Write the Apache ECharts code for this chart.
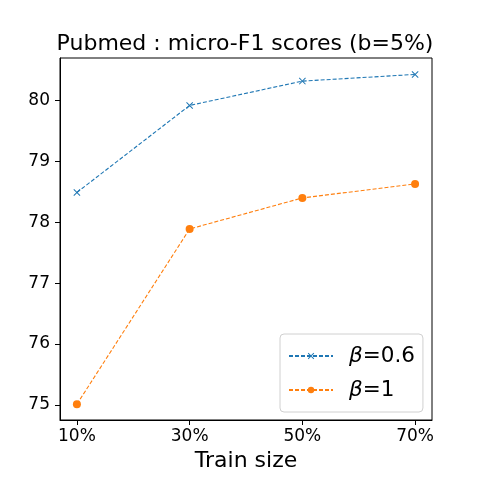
<!DOCTYPE html>
<html>
<head>
<meta charset="utf-8">
<script src="https://cdn.jsdelivr.net/npm/echarts@6/dist/echarts.min.js"></script>
<style>
  html, body { margin: 0; padding: 0; background: #fff; }
  #chart { width: 480px; height: 480px; }
</style>
</head>
<body>
<div id="chart"></div>
<script>
// train sizes (%) and scores
const trainSizes = [10, 30, 50, 70];
const beta06 = [78.49, 79.92, 80.32, 80.43];
const beta1 = [75.01, 77.89, 78.40, 78.63];
const yTicks = [75, 76, 77, 78, 79, 80];
const seriesNames = ['β=0.6', 'β=1'];

const FONT = 'DejaVu Sans';

// matplotlib style "x" marker
const crossPath = 'path://M0,1 L1,0 L5,4 L9,0 L10,1 L6,5 L10,9 L9,10 L5,6 L1,10 L0,9 L4,5 Z';

const chart = echarts.init(document.getElementById('chart'), null, { renderer: 'canvas' });

const option = {
  animation: false,
  backgroundColor: '#fff',
  title: {
    text: 'Pubmed : micro-F1 scores (b=5%)',
    left: 240,
    textAlign: 'center',
    top: 28,
    textStyle: { fontFamily: FONT, fontSize: 22, fontWeight: 'normal', color: '#000' }
  },
  grid: {
    left: 60, right: 48, top: 58, bottom: 60,
    show: true, borderColor: '#000', borderWidth: 1
  },
  legend: {
    orient: 'vertical',
    left: 280,
    top: 334,
    width: 142,
    itemWidth: 44,
    itemHeight: 8,
    itemGap: 12,
    padding: [11, 8, 11, 8],
    backgroundColor: 'rgba(255,255,255,0.8)',
    borderColor: '#d0d0d0',
    borderWidth: 1,
    borderRadius: 4,
    data: seriesNames,
    formatter: function (name) {
      return '{b|β}' + name.slice(1);
    },
    textStyle: {
      fontFamily: FONT, fontSize: 21.5, color: '#000',
      padding: [0, 0, 0, 11],
      rich: { b: { fontFamily: FONT, fontSize: 21.5, fontStyle: 'italic', color: '#000' } }
    }
  },
  xAxis: {
    type: 'value',
    min: 7,
    max: 73,
    name: 'Train size',
    nameLocation: 'middle',
    nameGap: 25,
    nameTextStyle: { fontFamily: FONT, fontSize: 22, color: '#000' },
    axisLine: { onZero: false, lineStyle: { color: '#000', width: 1 } },
    axisTick: { show: true, length: 5, lineStyle: { color: '#000' }, customValues: trainSizes },
    axisLabel: {
      customValues: trainSizes,
      formatter: v => v + '%',
      fontFamily: FONT, fontSize: 17, color: '#000', margin: 8
    },
    splitLine: { show: false }
  },
  yAxis: {
    type: 'value',
    min: 74.75,
    max: 80.7,
    axisLine: { show: true, onZero: false, lineStyle: { color: '#000', width: 1 } },
    axisTick: { show: true, length: 5, lineStyle: { color: '#000' }, customValues: yTicks },
    axisLabel: {
      customValues: yTicks,
      fontFamily: FONT, fontSize: 17, color: '#000', margin: 10
    },
    splitLine: { show: false }
  },
  series: [
    {
      name: seriesNames[0],
      type: 'line',
      data: trainSizes.map((x, i) => [x, beta06[i]]),
      color: '#1f77b4',
      symbol: crossPath,
      symbolSize: 7,
      showAllSymbol: true,
      lineStyle: { color: '#1f77b4', width: 1.1, type: [4, 2] },
      itemStyle: { color: '#1f77b4' }
    },
    {
      name: seriesNames[1],
      type: 'line',
      data: trainSizes.map((x, i) => [x, beta1[i]]),
      color: '#ff7f0e',
      symbol: 'circle',
      symbolSize: 8,
      showAllSymbol: true,
      lineStyle: { color: '#ff7f0e', width: 1.1, type: [4, 2] },
      itemStyle: { color: '#ff7f0e' }
    }
  ]
};

chart.setOption(option);
</script>
</body>
</html>
